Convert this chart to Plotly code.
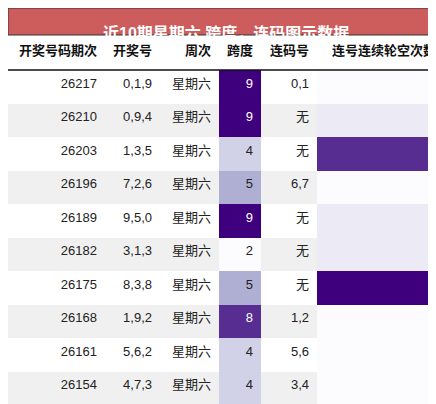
import plotly.graph_objects as go
from plotly.colors import sample_colorscale

title = "近10期星期六 跨度，连码图示数据"
headers = ["开奖号码期次", "开奖号", "周次", "跨度", "连码号", "连号连续轮空次数"]
periods = ["26217", "26210", "26203", "26196", "26189", "26182", "26175", "26168", "26161", "26154"]
draws = ["0,1,9", "0,9,4", "1,3,5", "7,2,6", "9,5,0", "3,1,3", "8,3,8", "1,9,2", "5,6,2", "4,7,3"]
weekday = ["星期六"] * 10
span = [9, 9, 4, 5, 9, 2, 5, 8, 4, 4]
consec = ["0,1", "无", "无", "6,7", "无", "无", "无", "1,2", "5,6", "3,4"]
gaps = [0, 1, 6, 0, 1, 1, 7, 0, 0, 0]

W, H = 436, 404
TITLE_H = 27
n = len(periods)
FONT = "Liberation Sans, Noto Sans CJK SC"

def scale(vals):
    lo, hi = min(vals), max(vals)
    fr = [(v - lo) / (hi - lo) for v in vals]
    cols = sample_colorscale("Purples", fr)
    fcs = ["white" if f > 0.6 else "#222" for f in fr]
    return cols, fcs

span_fill, span_font = scale(span)
gap_fill, gap_font = scale(gaps)
stripe = ["#ffffff" if i % 2 == 0 else "#f0f0f0" for i in range(n)]
dark = ["#222"] * n

fig = go.Figure(go.Table(
    columnwidth=[97, 55, 59, 42, 56, 127],
    domain=dict(x=[0, 1], y=[0, 1 - TITLE_H / H]),
    header=dict(values=["<b>%s</b>" % h for h in headers], height=35,
                fill_color="white", line_width=0, align="right",
                font=dict(family=FONT, size=13, color="#111")),
    cells=dict(values=[periods, draws, weekday, span, consec, gaps], height=33.5,
               fill_color=[stripe, stripe, stripe, span_fill, stripe, gap_fill],
               font=dict(family=FONT, size=13,
                         color=[dark, dark, dark, span_font, dark, gap_font]),
               line_width=0, align="right"),
))
fig.add_shape(type="rect", xref="paper", yref="paper", x0=0, x1=1, layer="above",
              y0=1 - TITLE_H / H, y1=1, fillcolor="#cd5c5c", line=dict(color="#333", width=1))
fig.add_shape(type="line", xref="paper", yref="paper", x0=0, x1=1, layer="above",
              y0=1 - (TITLE_H + 35) / H, y1=1 - (TITLE_H + 35) / H, line=dict(color="#111", width=1.5))
fig.add_annotation(text="<b>%s</b>" % title, xref="paper", yref="paper", x=0.5,
                   y=1 - TITLE_H / 2 / H, showarrow=False,
                   font=dict(family=FONT, size=16, color="white"))
fig.update_layout(width=W, height=H, margin=dict(l=0, r=0, t=0, b=0),
                  paper_bgcolor="white", plot_bgcolor="white")
fig.write_html("out.html")
